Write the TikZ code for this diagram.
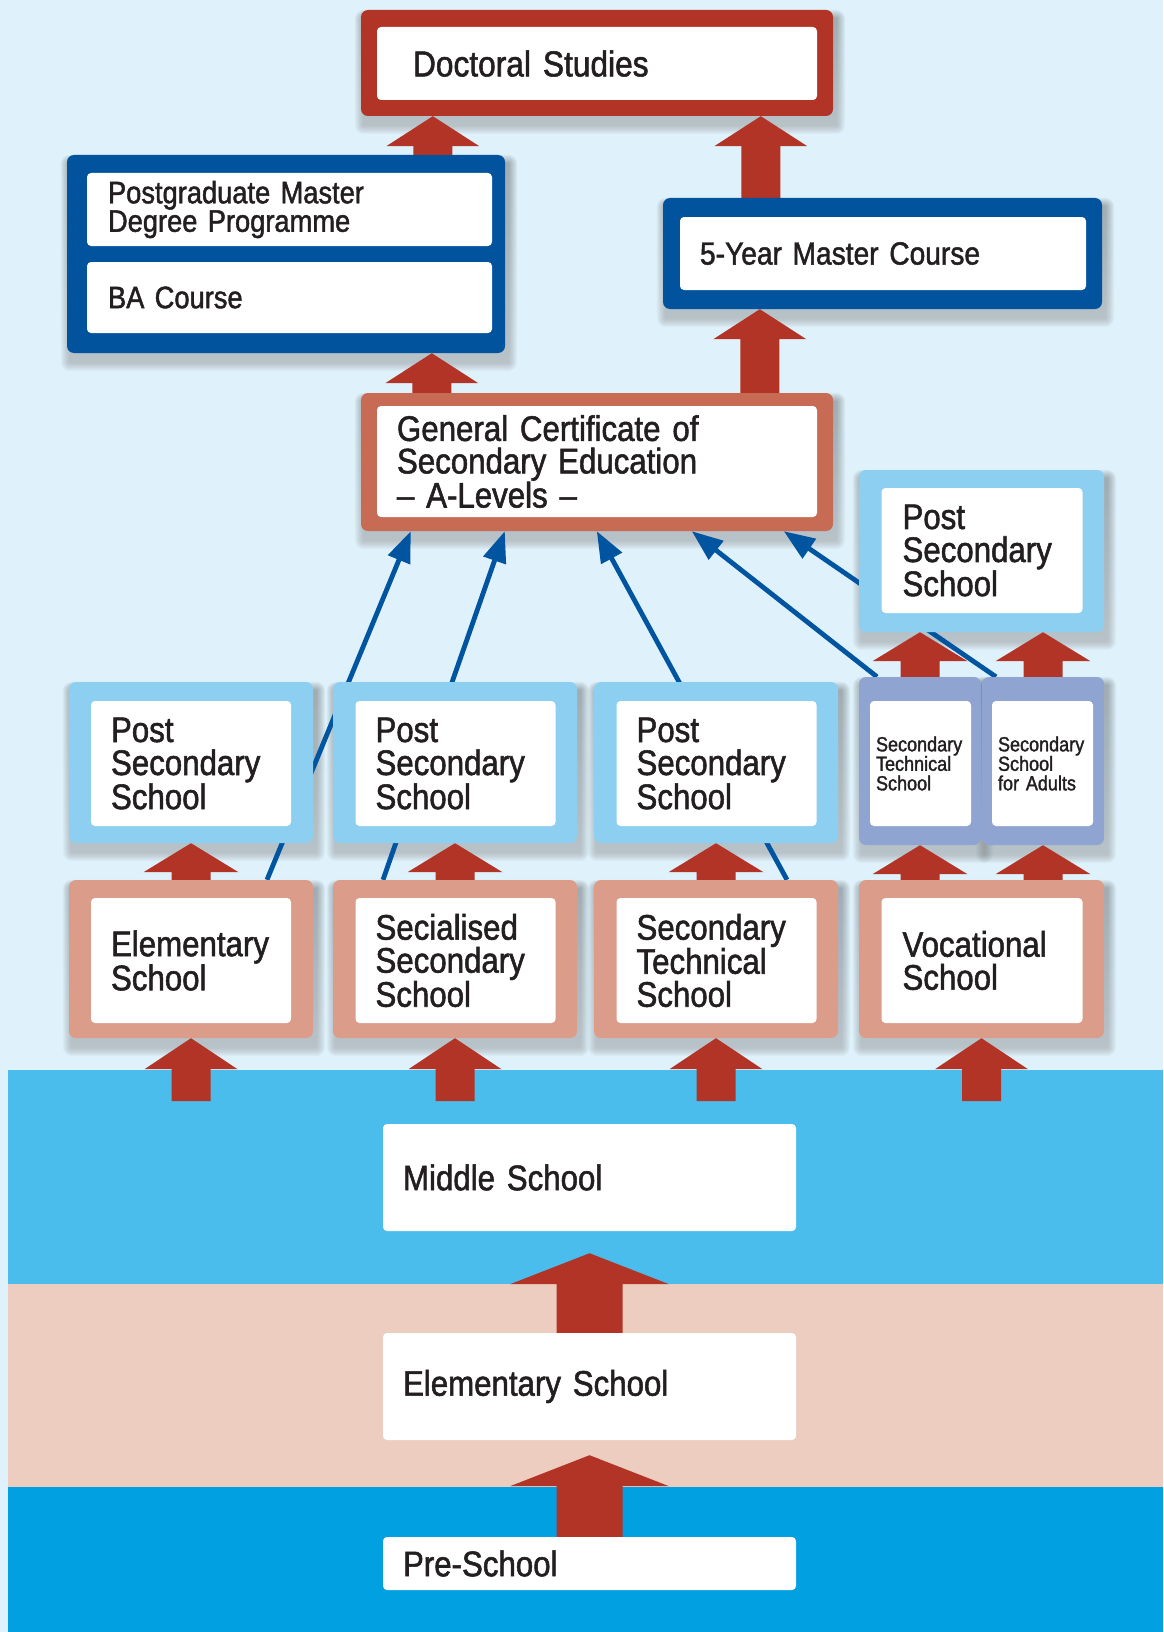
\documentclass[tikz,border=0pt]{standalone}
\usepackage{fontspec}
\setmainfont[FakeStretch=0.88, FakeBold=1.5, WordSpace=0.8]{Liberation Sans}
\usetikzlibrary{calc, arrows.meta}

\definecolor{skybg}{HTML}{DFF1FA}
\definecolor{bandmid}{HTML}{4BBDEC}
\definecolor{bandelem}{HTML}{EDCDBF}
\definecolor{bandpre}{HTML}{00A0E1}
\definecolor{docred}{HTML}{B23427}
\definecolor{arrowred}{HTML}{B23427}
\definecolor{terra}{HTML}{C76B55}
\definecolor{uniblue}{HTML}{00539C}
\definecolor{lightframe}{HTML}{8DCFF1}
\definecolor{salmon}{HTML}{DC9C8A}
\definecolor{lilac}{HTML}{8FA4D0}
\definecolor{lineblue}{HTML}{0054A0}
\definecolor{ink}{HTML}{231F20}
\definecolor{shade}{HTML}{1A3A5A}

\pgfdeclarelayer{bg}
\pgfdeclarelayer{shadow}
\pgfdeclarelayer{conn}
\pgfsetlayers{bg,shadow,conn,main}

% tip, bottom, head half width, shaft half width, head length
\newcommand{\redarrow}[5]{%
  \fill[arrowred] let \p1=#1, \p2=#2 in
    (\x1,\y1) -- (\x1+#3,\y1-#5) -- (\x1+#4,\y1-#5) -- (\x1+#4,\y2)
    -- (\x1-#4,\y2) -- (\x1-#4,\y1-#5) -- (\x1-#3,\y1-#5) -- cycle;}

\begin{document}
\begin{tikzpicture}[x=1pt, y=-1pt,
  frame/.style={rounded corners=7pt, inner sep=0pt},
  inbox/.style={fill=white, rounded corners=4pt, inner ysep=0pt, inner xsep=20pt,
    align=left, text=ink, font=\fontsize{35.5}{33}\selectfont},
  smalltext/.style={inner xsep=6pt, text width=89pt, font=\fontsize{20.5}{19.5}\selectfont},
  blueline/.style={draw=lineblue, line width=4.8pt, -{Triangle[length=31pt, width=23pt]}}]

\useasboundingbox (0,0) rectangle (1163,1632);

% background and bands
\begin{pgfonlayer}{bg}
  \fill[skybg] (0,0) rectangle (1163,1632);
  \fill[bandmid] (8,1070) rectangle (1163,1284);
  \fill[bandelem] (8,1284) rectangle (1163,1487);
  \fill[bandpre] (8,1487) rectangle (1163,1632);
\end{pgfonlayer}

% top
\node[frame, fill=docred, minimum width=472pt, minimum height=106pt] (doc) at (597,63) {};
\node[inbox, minimum height=73pt, text width=368pt, inner xsep=36pt, font=\fontsize{36}{33}\selectfont] (docin) at (597,63.5) {Doctoral Studies};

\node[frame, fill=uniblue, minimum width=438pt, minimum height=198pt] (ma) at (286,254) {};
\node[inbox, minimum height=73pt, text width=363pt, inner xsep=21pt, font=\fontsize{31}{28.5}\selectfont] (pg) at (289.5,209.5) {Postgraduate Master\\Degree Programme};
\node[inbox, minimum height=71pt, text width=363pt, inner xsep=21pt, font=\fontsize{31}{28.5}\selectfont] (ba) at (289.5,297.5) {BA Course};

\node[frame, fill=uniblue, minimum width=439pt, minimum height=111pt] (five) at (882.5,253.5) {};
\node[inbox, minimum height=73pt, text width=366pt, font=\fontsize{32}{30}\selectfont] (fivein) at (883,253.5) {5-Year Master Course};

\node[frame, fill=terra, minimum width=472pt, minimum height=138pt] (gcse) at (597,462) {};
\node[inbox, minimum height=111pt, text width=400pt, font=\fontsize{35.5}{32.5}\selectfont] (gcsein) at (597,461.5) {General Certificate of\\Secondary Education\\– A-Levels –};

\node[frame, fill=lightframe, minimum width=245pt, minimum height=162pt] (postR) at (981.5,551) {};
\node[inbox, minimum height=125pt, text width=159pt, inner xsep=21pt] (postRin) at (982,550.5) {Post\\Secondary\\School};

% post secondary row
\node[frame, fill=lightframe, minimum width=244pt, minimum height=161pt] (p1) at (191,762.5) {};
\node[frame, fill=lightframe, minimum width=244pt, minimum height=161pt] (p2) at (455,762.5) {};
\node[frame, fill=lightframe, minimum width=244pt, minimum height=161pt] (p3) at (716,762.5) {};
\node[inbox, minimum height=125pt, text width=160pt] (p1in) at (191,763.5) {Post\\Secondary\\School};
\node[inbox, minimum height=125pt, text width=160pt] (p2in) at (455.5,763.5) {Post\\Secondary\\School};
\node[inbox, minimum height=125pt, text width=160pt] (p3in) at (716.5,763.5) {Post\\Secondary\\School};

\node[frame, fill=lilac, minimum width=122pt, minimum height=168pt] (pa) at (920,761) {};
\node[frame, fill=lilac, minimum width=122pt, minimum height=168pt] (pb) at (1043,761) {};
\node[inbox, smalltext, minimum height=125pt] (pain) at (920.5,763.5) {Secondary\\Technical\\School};
\node[inbox, smalltext, minimum height=125pt] (pbin) at (1042.5,763.5) {Secondary\\School\\for Adults};

% secondary row
\node[frame, fill=salmon, minimum width=244pt, minimum height=158pt] (e1) at (191,959) {};
\node[frame, fill=salmon, minimum width=244pt, minimum height=158pt] (e2) at (455,959) {};
\node[frame, fill=salmon, minimum width=244pt, minimum height=158pt] (e3) at (716,959) {};
\node[frame, fill=salmon, minimum width=245pt, minimum height=158pt] (e4) at (981.5,959) {};
\node[inbox, minimum height=125pt, text width=160pt] (e1in) at (191,960.5) {Elementary\\School};
\node[inbox, minimum height=125pt, text width=160pt] (e2in) at (455.5,960.5) {Secialised\\Secondary\\School};
\node[inbox, minimum height=125pt, text width=160pt] (e3in) at (716.5,960.5) {Secondary\\Technical\\School};
\node[inbox, minimum height=125pt, text width=159pt, inner xsep=21pt] (e4in) at (982,960.5) {Vocational\\School};

% compulsory school
\node[inbox, minimum height=107pt, text width=373pt] (middle) at (589.5,1177.5) {Middle School};
\node[inbox, minimum height=107pt, text width=373pt] (elem) at (589.5,1386.5) {Elementary School};
\node[inbox, minimum height=53pt, text width=373pt] (pre) at (589.5,1563.5) {Pre-School};

% soft shadows under the frames
\begin{pgfonlayer}{shadow}
  \foreach \n in {doc, ma, five, gcse, postR, p1, p2, p3, pa, pb, e1, e2, e3, e4}
    \foreach \r in {1, 2, ..., 9}
      \fill[shade, opacity=0.022, rounded corners=\r pt]
        ([xshift=3pt-\r pt, yshift=-9pt-\r pt]\n.south west)
        rectangle ([xshift=3pt+\r pt, yshift=-9pt+\r pt]\n.north east);
\end{pgfonlayer}

\begin{pgfonlayer}{conn}
  % red arrows
  \redarrow{([xshift=72pt]doc.south west)}{(ma.north)}{46.5pt}{19.5pt}{30pt}
  \redarrow{([xshift=400pt]doc.south west)}{(five.north)}{46.5pt}{19.5pt}{30pt}
  \redarrow{([xshift=365pt]ma.south west)}{(gcse.north)}{46.5pt}{19.5pt}{30pt}
  \redarrow{([xshift=97pt]five.south west)}{(gcse.north)}{46.5pt}{19.5pt}{30pt}
  \foreach \a/\b in {e1/p1, e2/p2, e3/p3, e4/pa, e4/pb}
    \redarrow{(\b.south)}{(\a.north)}{47.5pt}{19.5pt}{29pt};
  \foreach \b in {pa, pb}
    \redarrow{(\b |- postR.south)}{(\b.north)}{47.5pt}{19.5pt}{29pt};
  \foreach \a in {e1, e2, e3, e4}
    \redarrow{(\a.south)}{([yshift=-63pt]\a.south)}{46.5pt}{19.5pt}{31pt};
  \redarrow{([yshift=-22pt]middle.south)}{(elem.north)}{79.5pt}{33pt}{31pt}
  \redarrow{([yshift=-15pt]elem.south)}{(pre.north)}{79.5pt}{33pt}{31pt}

  % blue lines to the a-levels
  \draw[blueline] ([xshift=76pt]e1.north) -- ([xshift=50pt]gcse.south west);
  \draw[blueline] ([xshift=-72pt]e2.north) -- ([xshift=144pt]gcse.south west);
  \draw[blueline] ([xshift=71pt]e3.north) -- ([xshift=236pt]gcse.south west);
  \draw[blueline] ([xshift=-43pt]pa.north) -- ([xshift=331pt]gcse.south west);
  \draw[blueline] ([xshift=-47pt]pb.north) -- ([xshift=423pt]gcse.south west);
\end{pgfonlayer}
\end{tikzpicture}
\end{document}
